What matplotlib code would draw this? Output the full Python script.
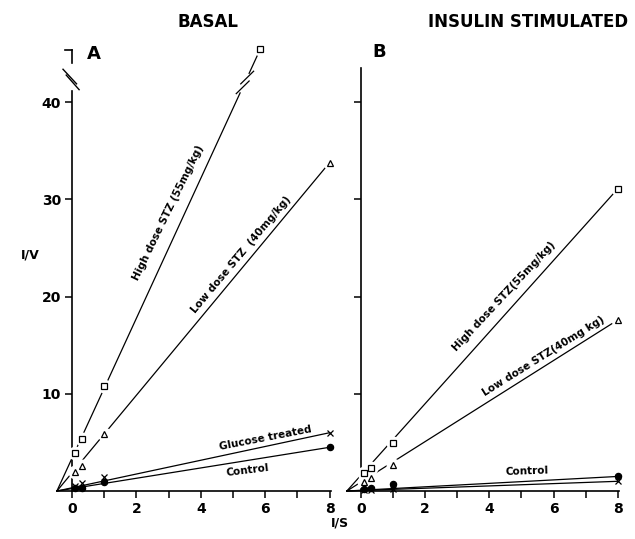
import numpy as np
import matplotlib.pyplot as plt

plt.rcParams['font.family'] = ['DejaVu Sans']
plt.rcParams['font.weight'] = 'bold'

# values (1/S on x, 1/V on y)
conc = [0.1, 0.3, 1, 8]
high_A_x = [0.1, 0.3, 1, 5.85]
high_A = [3.9, 5.4, 10.8, 45.5]
low_A = [2.0, 2.6, 5.85, 33.8]
glucose_A = [0.55, 0.8, 1.4, 6.0]
control_A = [0.3, 0.35, 0.9, 4.5]
xint_A = -0.47

high_B = [1.85, 2.4, 4.9, 31.1]
low_B = [0.9, 1.35, 2.7, 17.6]
control_B = [0.2, 0.3, 0.75, 1.5]
glucose_B = [0.1, 0.15, 0.25, 1.0]
xint_B = -0.44

xticks = [0, 1, 2, 3, 4, 5, 6, 7, 8]
xticklabels = ['0', '', '2', '', '4', '', '6', '', '8']
yticks = [10, 20, 30, 40]
yticklabels = ['10', '20', '30', '40']


def series(ax, xs, ys, marker, filled, xint, halo=False, line=True, ms=5):
    if line:
        ax.plot([xint, xs[-1]], [0, ys[-1]], color='k', lw=0.9, zorder=2)
    if halo:
        ax.plot(xs, ys, ls='none', marker='o', ms=ms + 4, mfc='white',
                mec='white', zorder=3, clip_on=False)
    ax.plot(xs, ys, ls='none', marker=marker, ms=ms,
            mfc='k' if filled else 'white', mec='k', mew=0.9,
            zorder=4, clip_on=False)


def setup(ax, xint, ytop, ylabels):
    ax.set_xlim(-0.6, 8.3)
    ax.set_ylim(-0.5, 46)
    for s in ['top', 'right']:
        ax.spines[s].set_visible(False)
    ax.spines['left'].set_position(('data', 0))
    ax.spines['bottom'].set_position(('data', 0))
    ax.spines['left'].set_bounds(0, ytop)
    ax.spines['bottom'].set_bounds(xint, 8.05)
    for s in ['left', 'bottom']:
        ax.spines[s].set_linewidth(1.2)
    ax.set_xticks(xticks)
    ax.set_xticklabels(xticklabels)
    ax.set_yticks(yticks)
    if ylabels:
        ax.set_yticklabels(yticklabels)
    else:
        ax.set_yticklabels([])
    ax.tick_params(direction='out', length=5, width=1.1, labelsize=10, pad=3)
    for t in ax.get_xticklabels() + ax.get_yticklabels():
        t.set_fontweight('bold')


fig = plt.figure(figsize=(6.35, 5.39), dpi=100)
axA = fig.add_axes([0.083, 0.080, 0.4513, 0.8384])
axB = fig.add_axes([0.5381, 0.080, 0.4499, 0.8384])

# ---- panel A (basal)
setup(axA, xint_A, 41.2, True)

# high dose line, broken near the top
slope = high_A[-1] / (high_A_x[-1] - xint_A)
xa = np.array([xint_A, 5.22])
xb = np.array([5.5, high_A_x[-1]])
axA.plot(xa, slope * (xa - xint_A), color='k', lw=0.9, zorder=2)
axA.plot(xb, slope * (xb - xint_A), color='k', lw=0.9, zorder=2)
for xc in [5.30, 5.44]:
    yc = slope * (xc - xint_A)
    axA.plot([xc - 0.2, xc + 0.2], [yc - 0.65, yc + 0.65], color='k',
             lw=0.9, clip_on=False)
series(axA, high_A_x, high_A, 's', False, xint_A, halo=True, line=False)
series(axA, conc, low_A, '^', False, xint_A, halo=True)
series(axA, conc, glucose_A, 'x', False, xint_A, ms=4.5)
series(axA, conc, control_A, 'o', True, xint_A, ms=4.5)

# broken y axis top
axA.plot([0, 0], [44.0, 45.4], color='k', lw=1.2, clip_on=False)
axA.plot([-0.22, 0], [45.4, 45.4], color='k', lw=1.2, clip_on=False)
axA.plot([-0.28, 0.14], [43.4, 41.9], color='k', lw=1.0, clip_on=False)
axA.plot([-0.18, 0.22], [42.8, 41.3], color='k', lw=1.0, clip_on=False)

tk = dict(fontsize=7.5, fontweight='bold', ha='center', va='center',
          rotation_mode='anchor')
axA.text(3.0, 28.6, 'High dose STZ (55mg/kg)', rotation=64, **tk)
axA.text(5.25, 24.3, 'Low dose STZ  (40mg/kg)', rotation=50, **tk)
axA.text(6.0, 5.4, 'Glucose treated', rotation=11, **tk)
axA.text(5.45, 2.1, 'Control', rotation=7, **tk)

# ---- panel B (insulin stimulated)
setup(axB, xint_B, 43.5, False)
series(axB, conc, high_B, 's', False, xint_B, halo=True)
series(axB, conc, low_B, '^', False, xint_B, halo=True)
series(axB, conc, glucose_B, 'x', False, xint_B, ms=4.5)
series(axB, conc, control_B, 'o', True, xint_B, ms=4.5)

axB.text(4.45, 20.0, 'High dose STZ(55mg/kg)', rotation=47, **tk)
axB.text(5.7, 13.9, 'Low dose STZ(40mg kg)', rotation=32, **tk)
axB.text(5.17, 2.0, 'Control', rotation=2, **tk)

# titles and labels
fig.text(0.328, 0.959, 'BASAL', ha='center', va='center', fontsize=12,
         fontweight='bold')
fig.text(0.832, 0.959, 'INSULIN STIMULATED', ha='center', va='center',
         fontsize=12, fontweight='bold')
fig.text(0.148, 0.900, 'A', ha='center', va='center', fontsize=13,
         fontweight='bold')
fig.text(0.597, 0.903, 'B', ha='center', va='center', fontsize=13,
         fontweight='bold')
fig.text(0.047, 0.527, 'I/V', ha='center', va='center', fontsize=9,
         fontweight='bold')
fig.text(0.535, 0.030, 'I/S', ha='center', va='center', fontsize=9,
         fontweight='bold')

fig.savefig('out.png', dpi=100)
